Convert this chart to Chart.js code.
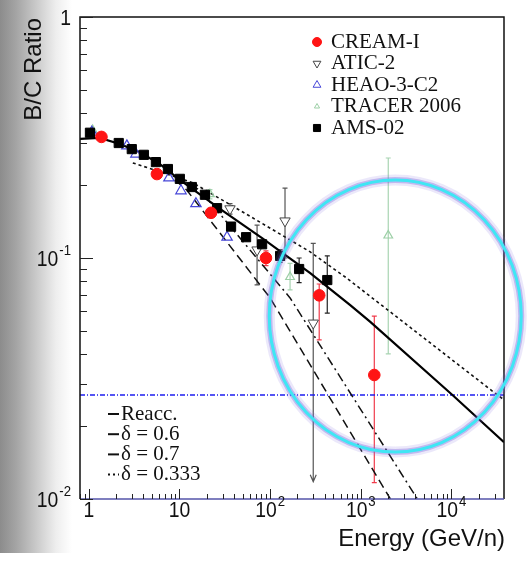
<!DOCTYPE html>
<html>
<head>
<meta charset="utf-8">
<title>B/C Ratio</title>
<script src="https://cdn.jsdelivr.net/npm/chart.js@4.4.1/dist/chart.umd.min.js"></script>
<style>
  html, body { margin: 0; padding: 0; background: #fff; }
  #wrap { position: relative; width: 527px; height: 565px; overflow: hidden; }
  #shade { position: absolute; left: 0; top: 0; width: 72px; height: 553px;
    background: linear-gradient(to right, #8c8c8c 0px, #a4a4a4 16px, #c9c9c9 36px, #eeeeee 56px, #ffffff 72px); }
  #bc { position: absolute; left: 0; top: 0; }
</style>
</head>
<body>
<div id="wrap">
  <div id="shade"></div>
  <canvas id="bc" width="527" height="565"></canvas>
</div>
<script>
// valeurs (E en GeV/n, rapport B/C)
const creamE  = [1.38, 5.64, 22.3, 90, 348, 1410];
const creamR  = [0.318, 0.223, 0.154, 0.100, 0.070, 0.0327];
const creamLo = [null, null, null, 0.093, 0.0457, 0.0117];
const creamHi = [null, null, null, 0.107, 0.078, 0.0574];

const aticE   = [36.1, 71.8, 146, 299];
const aticR   = [0.160, 0.108, 0.1425, 0.0537];
const aticLo  = [0.152, 0.0773, 0.100, 0.0118];
const aticHi  = [0.168, 0.137, 0.195, 0.115];
const aticArrow = [false, false, false, true];

const heaoE = [1.08, 2.63, 3.31, 7.66, 10.4, 15.2, 33.5];
const heaoR = [0.333, 0.292, 0.270, 0.215, 0.190, 0.168, 0.122];

const tracerE  = [1.1, 21.7, 166, 2010];
const tracerR  = [0.34, 0.184, 0.0834, 0.124];
const tracerLo = [null, 0.176, 0.0737, 0.040];
const tracerHi = [null, 0.192, 0.095, 0.26];

const amsE  = [1.03, 2.14, 2.98, 4.05, 5.50, 7.46, 10.1, 13.7, 19.1, 26.0, 37.1, 54.3, 81.6, 129, 209, 427];
const amsR  = [0.331, 0.300, 0.283, 0.268, 0.250, 0.234, 0.213, 0.197, 0.183, 0.161, 0.135, 0.122, 0.114, 0.102, 0.090, 0.081];
const amsLo = [null, null, null, null, null, null, null, null, null, null, null, null, null, 0.096, 0.079, 0.059];
const amsHi = [null, null, null, null, null, null, null, null, null, null, null, null, null, 0.108, 0.100, 0.102];

// courbes des modeles
const reaccE = [0.8, 1.32, 2.2, 3.66, 6.09, 10.1, 28, 81.6, 277, 765, 1274, 10260, 38000];
const reaccR = [0.312, 0.315, 0.297, 0.275, 0.245, 0.211, 0.160, 0.121, 0.0866, 0.0638, 0.0543, 0.027, 0.0172];
const d06E = [11.5, 16.9, 166, 4210];
const d06R = [0.207, 0.191, 0.0683, 0.0100];
const d07E = [8.9, 12.1, 100, 2120];
const d07R = [0.211, 0.191, 0.0683, 0.0100];
const d0333E = [3.06, 6.1, 14.1, 60, 277, 674, 32200, 38000];
const d0333R = [0.248, 0.228, 0.205, 0.149, 0.106, 0.0834, 0.027, 0.0258];
const blueE = [0.8, 38000];
const blueR = [0.027, 0.027];

// axes
const xMin = 0.8, xMax = 38000, yMin = 0.01, yMax = 1;
const xTicks = [1, 10, 100, 1000, 10000];
const xTickBase = ['1', '10', '10', '10', '10'];
const xTickExp = ['', '', '2', '3', '4'];
const yTicks = [1, 0.1, 0.01];
const yTickBase = ['1', '10', '10'];
const yTickExp = ['', '-1', '-2'];

const seriesNames = ['CREAM-I', 'ATIC-2', 'HEAO-3-C2', 'TRACER 2006', 'AMS-02'];
const modelNames = ['Reacc.', 'δ = 0.6', 'δ = 0.7', 'δ = 0.333'];

// cercle ajoute sur la figure
const circE = 2400, circR = 0.0574;

const pts = (xs, ys) => xs.map((x, i) => ({ x: x, y: ys[i] }));
const SANS = '"Liberation Sans", Arial, sans-serif';
const SERIF = '"Liberation Serif", "Times New Roman", serif';

function powLabel(ctx, base, exp, x, y, align) {
  ctx.save();
  ctx.translate(x, y);
  ctx.scale(0.88, 1);
  ctx.font = '22px ' + SANS;
  const wb = ctx.measureText(base).width;
  ctx.font = '15px ' + SANS;
  const we = exp ? ctx.measureText(exp).width + 1 : 0;
  const w = wb + we;
  const x0 = align === 'right' ? -w : (align === 'center' ? -w / 2 : 0);
  ctx.fillStyle = '#111';
  ctx.textAlign = 'left';
  ctx.textBaseline = 'middle';
  ctx.font = '22px ' + SANS;
  ctx.fillText(base, x0, 0);
  if (exp) {
    ctx.font = '15px ' + SANS;
    ctx.fillText(exp, x0 + wb + 1, -9);
  }
  ctx.restore();
}

const decor = {
  id: 'decor',
  beforeDatasetsDraw(chart) {
    const { ctx, chartArea: a, scales: { x, y } } = chart;
    ctx.save();
    ctx.beginPath();
    ctx.rect(a.left, a.top, a.right - a.left, a.bottom - a.top);
    ctx.clip();
    chart.data.datasets.forEach(ds => {
      if (!ds.errLo) return;
      ctx.strokeStyle = ds.errColor;
      ctx.lineWidth = 1.2;
      ds.data.forEach((p, i) => {
        const lo = ds.errLo[i], hi = ds.errHi[i];
        if (lo == null) return;
        const px = x.getPixelForValue(p.x);
        const y1 = y.getPixelForValue(hi), y2 = y.getPixelForValue(lo);
        ctx.beginPath();
        ctx.moveTo(px, y1); ctx.lineTo(px, y2);
        ctx.moveTo(px - 2.5, y1); ctx.lineTo(px + 2.5, y1);
        if (ds.errArrow && ds.errArrow[i]) {
          ctx.moveTo(px - 3, y2 - 7); ctx.lineTo(px, y2); ctx.lineTo(px + 3, y2 - 7);
        } else {
          ctx.moveTo(px - 2.5, y2); ctx.lineTo(px + 2.5, y2);
        }
        ctx.stroke();
      });
    });
    ctx.restore();
  },
  afterDraw(chart) {
    const { ctx, chartArea: a, scales: { x, y } } = chart;
    ctx.save();

    // cadre
    ctx.lineWidth = 1.5;
    ctx.strokeStyle = '#111';
    ctx.beginPath();
    ctx.moveTo(a.left, a.bottom); ctx.lineTo(a.left, a.top);
    ctx.lineTo(a.right, a.top); ctx.lineTo(a.right, a.bottom);
    ctx.stroke();
    ctx.strokeStyle = '#5555aa';
    ctx.beginPath();
    ctx.moveTo(a.left, a.bottom); ctx.lineTo(a.right, a.bottom);
    ctx.stroke();

    // graduations vers l'interieur
    ctx.strokeStyle = '#222';
    ctx.lineWidth = 1;
    ctx.beginPath();
    for (let d = -1; d <= 4; d++) {
      for (let k = 1; k <= 9; k++) {
        const v = k * Math.pow(10, d);
        if (v < xMin || v > xMax) continue;
        const px = Math.round(x.getPixelForValue(v)) + 0.5;
        const len = k === 1 ? 10 : 5;
        ctx.moveTo(px, a.bottom); ctx.lineTo(px, a.bottom - len);
      }
    }
    for (let d = -2; d <= 0; d++) {
      for (let k = 1; k <= 9; k++) {
        const v = k * Math.pow(10, d);
        if (v < yMin || v > yMax) continue;
        const py = Math.round(y.getPixelForValue(v)) + 0.5;
        const len = k === 1 ? 13 : 7;
        ctx.moveTo(a.left, py); ctx.lineTo(a.left + len, py);
      }
    }
    ctx.stroke();

    // etiquettes
    xTicks.forEach((v, i) => powLabel(ctx, xTickBase[i], xTickExp[i], x.getPixelForValue(v), a.bottom + 12, 'center'));
    yTicks.forEach((v, i) => powLabel(ctx, yTickBase[i], yTickExp[i], a.left - 9, y.getPixelForValue(v) + 2, 'right'));

    // titres des axes
    ctx.fillStyle = '#111';
    ctx.font = '24px ' + SANS;
    ctx.textBaseline = 'middle';
    ctx.textAlign = 'right';
    ctx.fillText('Energy (GeV/n)', a.right + 1, 539);
    ctx.save();
    ctx.translate(34, a.top + 1);
    ctx.rotate(-Math.PI / 2);
    ctx.fillText('B/C Ratio', 0, 0);
    ctx.restore();

    // legende des mesures
    ctx.font = '21px ' + SERIF;
    ctx.textAlign = 'left';
    const dsets = chart.data.datasets;
    seriesNames.forEach((name, i) => {
      const ds = dsets[i];
      const ly = 42 + i * 21.5;
      ctx.save();
      ctx.fillStyle = ds.backgroundColor;
      ctx.strokeStyle = ds.borderColor;
      ctx.lineWidth = 1;
      Chart.helpers.drawPoint(ctx, { pointStyle: ds.pointStyle, radius: ds.legendRadius, rotation: ds.pointRotation || 0, borderWidth: 1 }, 317, ly);
      ctx.restore();
      ctx.fillStyle = '#111';
      ctx.fillText(name, 331, ly);
    });

    // legende des modeles
    modelNames.forEach((name, i) => {
      const ly = 414 + i * 20.2;
      ctx.save();
      ctx.strokeStyle = '#111';
      ctx.lineWidth = 2;
      ctx.setLineDash(i === 3 ? [2, 3] : []);
      ctx.beginPath();
      ctx.moveTo(108, ly); ctx.lineTo(119, ly);
      ctx.stroke();
      ctx.restore();
      ctx.fillStyle = '#111';
      ctx.fillText(name, 121, ly);
    });

    // cercle
    const cx = x.getPixelForValue(circE), cy = y.getPixelForValue(circR);
    ctx.beginPath();
    ctx.ellipse(cx, cy, 126, 136, 0, 0, 2 * Math.PI);
    ctx.strokeStyle = 'rgba(130,110,225,0.16)';
    ctx.lineWidth = 11;
    ctx.stroke();
    ctx.strokeStyle = 'rgba(115,95,220,0.35)';
    ctx.lineWidth = 6;
    ctx.stroke();
    ctx.strokeStyle = '#3fe6f4';
    ctx.lineWidth = 3;
    ctx.stroke();

    ctx.restore();
  }
};

const model = (label, xs, ys, color, dash, width, order) => ({
  label: label, data: pts(xs, ys), showLine: true, pointRadius: 0, fill: false,
  borderColor: color, backgroundColor: color, borderDash: dash, borderWidth: width, order: order
});

new Chart(document.getElementById('bc'), {
  type: 'scatter',
  data: {
    datasets: [
      { label: 'CREAM-I', data: pts(creamE, creamR), pointStyle: 'circle', pointRadius: 5.8, legendRadius: 4.5,
        backgroundColor: '#ff1414', borderColor: '#ff1414', borderWidth: 1,
        errLo: creamLo, errHi: creamHi, errColor: '#f03c4c', order: 1 },
      { label: 'ATIC-2', data: pts(aticE, aticR), pointStyle: 'triangle', pointRotation: 180, pointRadius: 6, legendRadius: 4.5,
        backgroundColor: '#ffffff', borderColor: '#444444', borderWidth: 1,
        errLo: aticLo, errHi: aticHi, errArrow: aticArrow, errColor: '#555555', order: 3 },
      { label: 'HEAO-3-C2', data: pts(heaoE, heaoR), pointStyle: 'triangle', pointRadius: 6, legendRadius: 4.5,
        backgroundColor: 'rgba(255,255,255,0)', borderColor: '#4646d8', borderWidth: 1.2, order: 4 },
      { label: 'TRACER 2006', data: pts(tracerE, tracerR), pointStyle: 'triangle', pointRadius: 5, legendRadius: 3,
        backgroundColor: 'rgba(255,255,255,0)', borderColor: '#9ccfa6', borderWidth: 1.2,
        errLo: tracerLo, errHi: tracerHi, errColor: '#a8d4b2', order: 5 },
      { label: 'AMS-02', data: pts(amsE, amsR), pointStyle: 'rect', pointRadius: 6.5, legendRadius: 5,
        backgroundColor: '#000000', borderColor: '#000000', borderWidth: 1,
        errLo: amsLo, errHi: amsHi, errColor: '#222222', order: 2 },
      model('Reacc.', reaccE, reaccR, '#000000', [], 2.2, 10),
      model('δ = 0.6', d06E, d06R, '#111111', [9, 4, 2, 4], 1.5, 11),
      model('δ = 0.7', d07E, d07R, '#111111', [9, 5], 1.5, 12),
      model('δ = 0.333', d0333E, d0333R, '#111111', [3, 3], 1.6, 13),
      model('limit', blueE, blueR, '#1c1cf0', [5, 2, 1, 2], 1.6, 14)
    ]
  },
  options: {
    responsive: false,
    animation: false,
    devicePixelRatio: 1,
    layout: { padding: { top: 17, right: 23, left: 0, bottom: 0 } },
    plugins: { legend: { display: false }, tooltip: { enabled: false } },
    scales: {
      x: {
        type: 'logarithmic', min: xMin, max: xMax,
        grid: { display: false }, border: { display: false }, ticks: { display: false },
        afterFit: s => { s.height = 66; }
      },
      y: {
        type: 'logarithmic', min: yMin, max: yMax,
        grid: { display: false }, border: { display: false }, ticks: { display: false },
        afterFit: s => { s.width = 80; }
      }
    }
  },
  plugins: [decor]
});
</script>
</body>
</html>
